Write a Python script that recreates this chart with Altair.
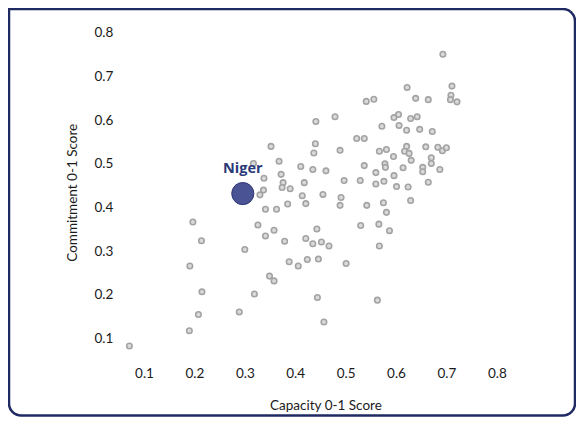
import altair as alt
import pandas as pd

capacity = [0.071, 0.190, 0.208, 0.215, 0.191, 0.214, 0.197, 0.300, 0.319, 0.289,
            0.349, 0.358, 0.341, 0.363, 0.326, 0.358, 0.341, 0.411, 0.435, 0.461,
            0.537, 0.578, 0.579, 0.614, 0.560, 0.372, 0.376, 0.374, 0.390, 0.418,
            0.497, 0.529, 0.560, 0.576, 0.596, 0.601, 0.624, 0.414, 0.455, 0.491,
            0.489, 0.385, 0.421, 0.542, 0.575, 0.581, 0.629, 0.443, 0.379, 0.421,
            0.435, 0.452, 0.467, 0.530, 0.566, 0.587, 0.567, 0.388, 0.406, 0.424,
            0.446, 0.501, 0.444, 0.563, 0.457, 0.622, 0.541, 0.556, 0.441, 0.479,
            0.596, 0.605, 0.572, 0.606, 0.621, 0.629, 0.522, 0.537, 0.352, 0.440,
            0.437, 0.489, 0.567, 0.581, 0.595, 0.621, 0.617, 0.626, 0.368, 0.693,
            0.711, 0.709, 0.708, 0.721, 0.639, 0.664, 0.642, 0.647, 0.672, 0.659,
            0.683, 0.692, 0.700, 0.670, 0.670, 0.630, 0.653, 0.653, 0.687, 0.664,
            0.317, 0.338, 0.337, 0.330]
commitment = [0.083, 0.118, 0.155, 0.207, 0.266, 0.324, 0.367, 0.304, 0.202, 0.161,
              0.243, 0.232, 0.396, 0.396, 0.360, 0.348, 0.335, 0.494, 0.487, 0.484,
              0.496, 0.500, 0.492, 0.491, 0.480, 0.476, 0.457, 0.446, 0.443, 0.457,
              0.462, 0.462, 0.454, 0.460, 0.473, 0.448, 0.447, 0.427, 0.430, 0.423,
              0.405, 0.408, 0.409, 0.405, 0.411, 0.389, 0.416, 0.351, 0.323, 0.329,
              0.317, 0.321, 0.312, 0.359, 0.362, 0.347, 0.312, 0.276, 0.266, 0.281,
              0.282, 0.272, 0.194, 0.188, 0.138, 0.675, 0.643, 0.648, 0.597, 0.608,
              0.606, 0.613, 0.586, 0.588, 0.577, 0.604, 0.558, 0.558, 0.540, 0.546,
              0.525, 0.531, 0.529, 0.533, 0.517, 0.540, 0.529, 0.524, 0.506, 0.751,
              0.678, 0.657, 0.647, 0.642, 0.650, 0.647, 0.608, 0.579, 0.574, 0.539,
              0.538, 0.530, 0.537, 0.514, 0.501, 0.508, 0.492, 0.482, 0.487, 0.458,
              0.501, 0.467, 0.440, 0.429]

highlight_name = ["Niger"]
highlight_capacity = [0.296]
highlight_commitment = [0.432]

x_ticks = [0.1, 0.2, 0.3, 0.4, 0.5, 0.6, 0.7, 0.8]
y_ticks = [0.1, 0.2, 0.3, 0.4, 0.5, 0.6, 0.7, 0.8]

df = pd.DataFrame({"capacity": capacity, "commitment": commitment})
hl = pd.DataFrame({"name": highlight_name, "capacity": highlight_capacity,
                   "commitment": highlight_commitment})

FONT = "Lato"
xscale = alt.Scale(domain=[0.05, 0.87], nice=False, zero=False)
yscale = alt.Scale(domain=[0.05, 0.82], nice=False, zero=False)

xaxis = alt.Axis(values=x_ticks, format=".1f", grid=False, domain=False, ticks=False,
                 labelPadding=6, labelFontSize=13.5, labelFont=FONT, labelColor="#1a1a1a",
                 title="Capacity 0-1 Score", titleFont=FONT, titleFontSize=13.5,
                 titleFontWeight="normal", titleColor="#1a1a1a", titlePadding=19)
yaxis = alt.Axis(values=y_ticks, format=".1f", grid=False, domain=False, ticks=False,
                 labelPadding=6, labelFontSize=13.5, labelFont=FONT, labelColor="#1a1a1a",
                 title="Commitment 0-1 Score", titleFont=FONT, titleFontSize=13.5,
                 titleFontWeight="normal", titleColor="#1a1a1a", titlePadding=14)

frame = alt.Chart(pd.DataFrame({"a": [0]})).mark_rect(
    fill=None, stroke="#1f2a63", strokeWidth=2.5,
    cornerRadiusTopRight=12, cornerRadiusBottomLeft=12, cornerRadiusBottomRight=12
).encode(x=alt.value(-109.8), x2=alt.value(456.2), y=alt.value(-15.1), y2=alt.value(391.4))

points = alt.Chart(df).mark_circle(
    size=30, fill="#dadada", stroke="#a3a3a3", strokeWidth=1.6, opacity=1
).encode(
    x=alt.X("capacity:Q", scale=xscale, axis=xaxis),
    y=alt.Y("commitment:Q", scale=yscale, axis=yaxis),
)

bubble = alt.Chart(hl).mark_circle(
    size=490, fill="#4a5394", stroke="#2e3675", strokeWidth=1, opacity=1
).encode(x=alt.X("capacity:Q", scale=xscale), y=alt.Y("commitment:Q", scale=yscale))

label = alt.Chart(hl).mark_text(
    dy=-25, font="Open Sans", fontSize=14.5, fontWeight="bold", color="#2b3a78"
).encode(x=alt.X("capacity:Q", scale=xscale), y=alt.Y("commitment:Q", scale=yscale),
         text="name:N")

chart = alt.layer(frame, points, bubble, label).properties(
    width=413.3, height=336.3,
    autosize=alt.AutoSizeParams(type="none"),
    padding={"left": 110.8, "top": 16.1, "right": 43.9, "bottom": 56.6},
).configure(background="white", view=alt.ViewConfig(strokeWidth=0, stroke="transparent"))

chart.save("out.html", embed_options={"renderer": "svg", "actions": False})
